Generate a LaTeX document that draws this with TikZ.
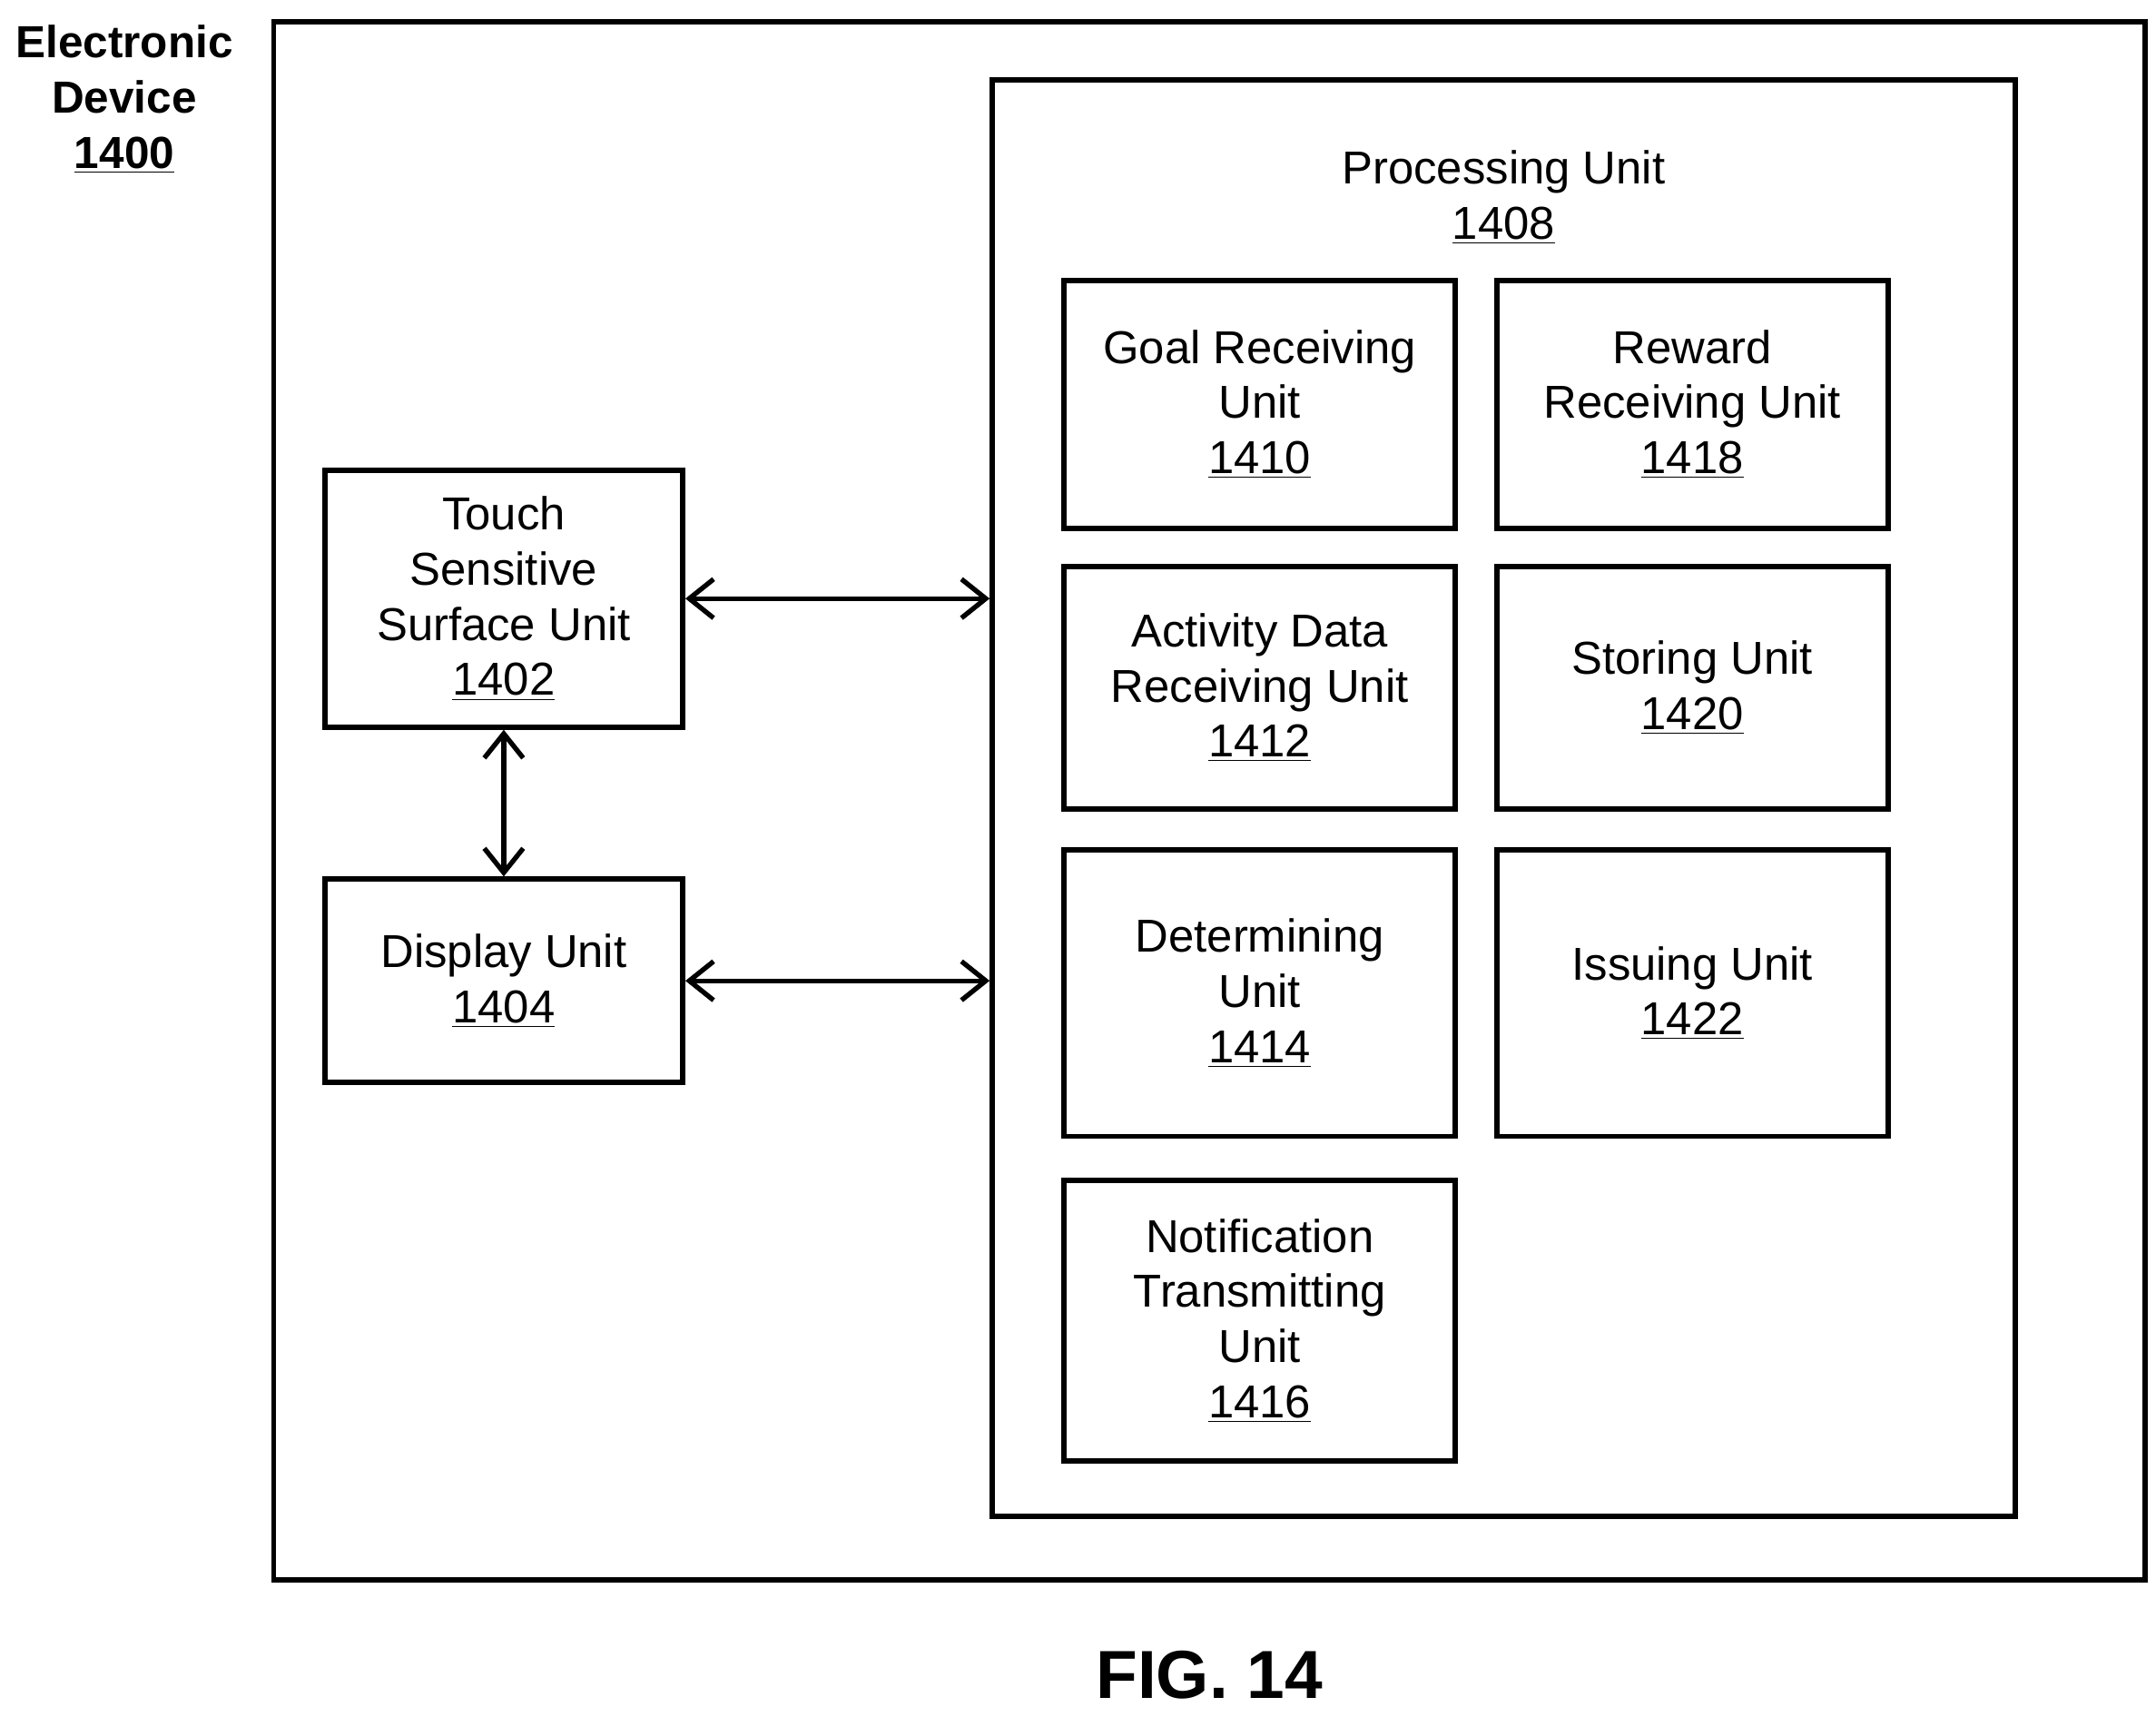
\documentclass[tikz,border=0pt]{standalone}
\usepackage{fontspec}
\setmainfont{Liberation Sans}
\usetikzlibrary{arrows.meta}
\begin{document}
\begin{tikzpicture}[x=0.02cm,y=-0.02cm,
  box/.style={draw,line width=2.2pt},
  lbl/.style={align=center,font=\fontsize{19}{22.7}\selectfont},
  conn/.style={line width=2pt,{Straight Barb[length=10pt,width=16pt]}-{Straight Barb[length=10pt,width=16pt]}}]
\useasboundingbox (0,0) rectangle (1560,1242);
\draw[box] (198,16) rectangle (1552,1143);
\node[lbl,font=\fontsize{18.5}{22.7}\selectfont\bfseries] (ed) at (90,72) {Electronic\\Device\\\underline{1400}};
\node[box,minimum width=740*0.02cm,minimum height=1039*0.02cm] (pu) at (1088,577.5) {};
\node[lbl] (pul) at (1088,143) {Processing Unit\\\underline{1408}};
\node[box,minimum width=259*0.02cm,minimum height=186*0.02cm,lbl] (ts) at (364.5,433) {Touch\\Sensitive\\Surface Unit\\\underline{1402}};
\node[box,minimum width=259*0.02cm,minimum height=147*0.02cm,lbl] (du) at (364.5,709.5) {Display Unit\\\underline{1404}};
\node[box,minimum width=283*0.02cm,minimum height=179*0.02cm,lbl] (g) at (911.5,292.5) {Goal Receiving\\Unit\\\underline{1410}};
\node[box,minimum width=283*0.02cm,minimum height=179*0.02cm,lbl] (r) at (1224.5,292.5) {Reward\\Receiving Unit\\\underline{1418}};
\node[box,minimum width=283*0.02cm,minimum height=175*0.02cm,lbl] (a) at (911.5,497.5) {Activity Data\\Receiving Unit\\\underline{1412}};
\node[box,minimum width=283*0.02cm,minimum height=175*0.02cm,lbl] (s) at (1224.5,497.5) {Storing Unit\\\underline{1420}};
\node[box,minimum width=283*0.02cm,minimum height=207*0.02cm,lbl] (d) at (911.5,718.5) {Determining\\Unit\\\underline{1414}};
\node[box,minimum width=283*0.02cm,minimum height=207*0.02cm,lbl] (i) at (1224.5,718.5) {Issuing Unit\\\underline{1422}};
\node[box,minimum width=283*0.02cm,minimum height=203*0.02cm,lbl] (n) at (911.5,955.5) {Notification\\Transmitting\\Unit\\\underline{1416}};
\draw[conn] (ts.east) -- (ts.east -| pu.west);
\draw[conn] (du.east) -- (du.east -| pu.west);
\draw[conn] (ts.south) -- (du.north);
\node[font=\fontsize{28}{32}\selectfont\bfseries] (fig) at (875,1212) {FIG. 14};
\end{tikzpicture}
\end{document}
